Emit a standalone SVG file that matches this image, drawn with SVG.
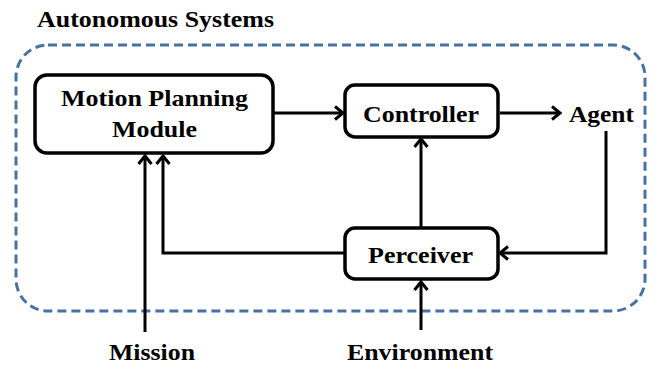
<svg xmlns="http://www.w3.org/2000/svg" width="651" height="365" viewBox="0 0 651 365">
<defs>
<style>
text{font-family:"Liberation Serif","Times New Roman",serif;font-weight:bold;font-size:23px;fill:#000}
.box{fill:#fff;stroke:#000;stroke-width:3.5}
.conn{fill:none;stroke:#000;stroke-width:3;stroke-linejoin:miter}
.frame{fill:none;stroke:#4773a2;stroke-width:3;stroke-dasharray:9 5}
</style>
<marker id="arr" markerUnits="userSpaceOnUse" viewBox="-12 -9 14 18" refX="0" refY="0" markerWidth="14" markerHeight="18" orient="auto" overflow="visible">
<path d="M-8,-6.5 L0,0 L-8,6.5" fill="none" stroke="#000" stroke-width="3"/>
</marker>
</defs>
<rect width="651" height="365" fill="#fff"/>
<g id="frame">
<rect class="frame" x="16" y="45" width="629" height="266" rx="32"/>
<text x="37" y="27" textLength="237" lengthAdjust="spacingAndGlyphs">Autonomous Systems</text>
</g>
<g id="connectors">
<path class="conn" d="M273,113 L343,113" marker-end="url(#arr)"/>
<path class="conn" d="M500,113 L560,113" marker-end="url(#arr)"/>
<path class="conn" d="M421,227 L421,139" marker-end="url(#arr)"/>
<path class="conn" d="M606,131 L606,253 L500,253" marker-end="url(#arr)"/>
<path class="conn" d="M344,253 L163,253 L163,156" marker-end="url(#arr)"/>
<path class="conn" d="M145,332 L145,156" marker-end="url(#arr)"/>
<path class="conn" d="M421,330 L421,282" marker-end="url(#arr)"/>
</g>
<g id="motion-planning">
<rect class="box" x="35" y="75" width="238" height="78" rx="12"/>
<text x="61" y="106" textLength="187" lengthAdjust="spacingAndGlyphs">Motion Planning</text>
<text x="112" y="137" textLength="85" lengthAdjust="spacingAndGlyphs">Module</text>
</g>
<g id="controller">
<rect class="box" x="345" y="85" width="153" height="52" rx="10"/>
<text x="363" y="122" textLength="116" lengthAdjust="spacingAndGlyphs">Controller</text>
</g>
<g id="agent">
<text x="569" y="122" textLength="65" lengthAdjust="spacingAndGlyphs">Agent</text>
</g>
<g id="perceiver">
<rect class="box" x="345" y="228" width="153" height="51" rx="10"/>
<text x="368" y="263" textLength="105" lengthAdjust="spacingAndGlyphs">Perceiver</text>
</g>
<g id="mission">
<text x="109" y="360" textLength="86" lengthAdjust="spacingAndGlyphs">Mission</text>
</g>
<g id="environment">
<text x="347" y="360" textLength="146" lengthAdjust="spacingAndGlyphs">Environment</text>
</g>
</svg>
